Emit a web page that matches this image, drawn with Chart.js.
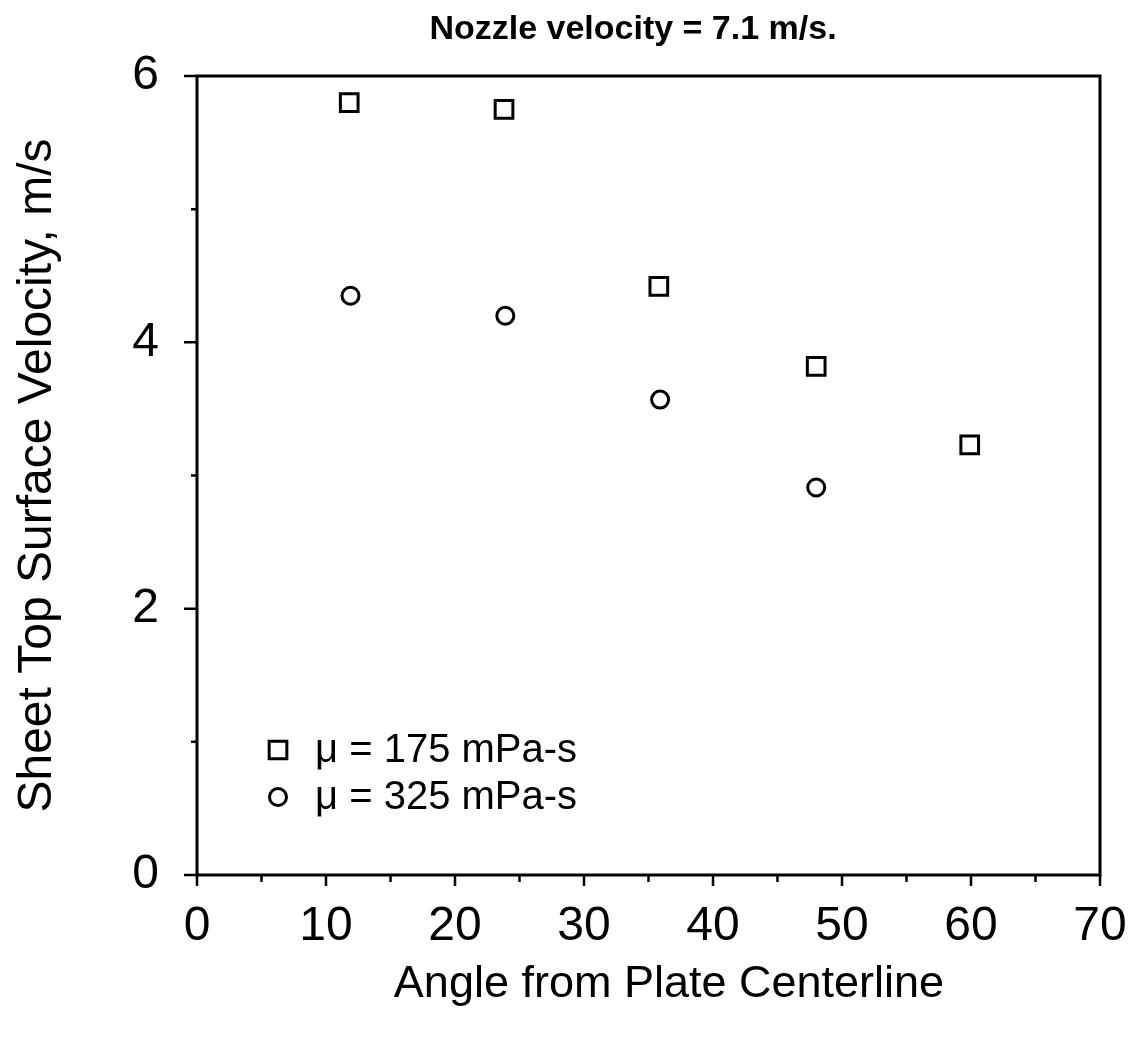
<!DOCTYPE html>
<html>
<head>
<meta charset="utf-8">
<script src="https://cdn.jsdelivr.net/npm/chart.js@4.4.1/dist/chart.umd.min.js"></script>
<style>
  html, body { margin: 0; padding: 0; background: #ffffff; }
  #wrap { width: 1143px; height: 1039px; position: relative; }
</style>
</head>
<body>
<div id="wrap"><canvas id="c" width="1143" height="1039"></canvas></div>
<script>
// ---- data ----
const chartTitle = "Nozzle velocity = 7.1 m/s.";
const xAxisTitle = "Angle from Plate Centerline";
const yAxisTitle = "Sheet Top Surface Velocity, m/s";

const seriesALabel = "\u03BC = 175 mPa-s";
const seriesAAngles = [11.8, 23.8, 35.8, 48.0, 59.9];
const seriesAValues = [5.80, 5.75, 4.42, 3.82, 3.23];

const seriesBLabel = "\u03BC = 325 mPa-s";
const seriesBAngles = [11.9, 23.9, 35.9, 48.0];
const seriesBValues = [4.35, 4.20, 3.57, 2.91];

const xMin = 0, xMax = 70, xMajorStep = 10, xMinorStep = 5;
const yMin = 0, yMax = 6, yMajorStep = 2, yMinorStep = 1;

const FONT = "'Liberation Sans', Arial, Helvetica, sans-serif";

function toPoints(xs, ys) { return xs.map((x, i) => ({ x: x, y: ys[i] })); }

// draws the frame, outward ticks, title, x-axis title and the inside legend
const framePlugin = {
  id: 'frame',
  afterDraw(chart) {
    const ctx = chart.ctx;
    const a = chart.chartArea;
    const xs = chart.scales.x, ys = chart.scales.y;
    ctx.save();
    ctx.strokeStyle = '#000';
    ctx.lineWidth = 3;
    ctx.lineCap = 'butt';
    ctx.strokeRect(a.left, a.top, a.right - a.left, a.bottom - a.top);
    ctx.lineWidth = 2.5;
    ctx.beginPath();
    for (let v = xMin; v <= xMax + 1e-9; v += xMinorStep) {
      const px = xs.getPixelForValue(v);
      const major = Math.abs(v / xMajorStep - Math.round(v / xMajorStep)) < 1e-9;
      ctx.moveTo(px, a.bottom);
      ctx.lineTo(px, a.bottom + (major ? 11 : 7));
    }
    for (let v = yMin; v <= yMax + 1e-9; v += yMinorStep) {
      const py = ys.getPixelForValue(v);
      const major = Math.abs(v / yMajorStep - Math.round(v / yMajorStep)) < 1e-9;
      ctx.moveTo(a.left, py);
      ctx.lineTo(a.left - (major ? 13 : 6), py);
    }
    ctx.stroke();

    ctx.fillStyle = '#000';
    // chart title
    ctx.font = "bold 34px " + FONT;
    ctx.textAlign = 'center';
    ctx.textBaseline = 'middle';
    ctx.fillText(chartTitle, a.left + 436, a.top - 46);
    // x axis title
    ctx.font = "45px " + FONT;
    ctx.fillText(xAxisTitle, a.left + 472, a.bottom + 110);

    // legend inside the plot (bottom-left)
    const entries = chart.data.datasets.map(ds => ({
      text: ds.label, style: ds.pointStyle, r: ds.pointRadius
    }));
    const lx = a.left + 81, ly0 = a.bottom - 125, dy = 47;
    ctx.font = "40px " + FONT;
    ctx.textBaseline = 'middle';
    ctx.textAlign = 'left';
    entries.forEach((e, i) => {
      const y = ly0 + i * dy;
      ctx.lineWidth = 3;
      ctx.strokeStyle = '#000';
      ctx.fillStyle = 'rgba(0,0,0,0)';
      Chart.helpers.drawPoint(ctx, { pointStyle: e.style, radius: e.r, borderWidth: 3, rotation: 0 }, lx, y);
      ctx.fillStyle = '#000';
      ctx.fillText(e.text, lx + 37, y + 1);
    });
    ctx.restore();
  }
};

new Chart(document.getElementById('c'), {
  type: 'scatter',
  data: {
    datasets: [
      {
        label: seriesALabel,
        data: toPoints(seriesAAngles, seriesAValues),
        pointStyle: 'rect',
        pointRadius: 12.5,
        pointBorderWidth: 3,
        pointBorderColor: '#000',
        pointBackgroundColor: 'rgba(0,0,0,0)',
        showLine: false
      },
      {
        label: seriesBLabel,
        data: toPoints(seriesBAngles, seriesBValues),
        pointStyle: 'circle',
        pointRadius: 8.5,
        pointBorderWidth: 3,
        pointBorderColor: '#000',
        pointBackgroundColor: 'rgba(0,0,0,0)',
        showLine: false
      }
    ]
  },
  options: {
    responsive: false,
    animation: false,
    devicePixelRatio: 1,
    layout: { padding: { left: 0, right: 43, top: 76, bottom: 0 } },
    plugins: {
      legend: { display: false },
      tooltip: { enabled: false },
      title: { display: false }
    },
    scales: {
      x: {
        type: 'linear',
        min: xMin, max: xMax,
        afterFit(scale) {
          scale.height = 1039 - 875;
          scale.paddingLeft = 0;
          scale.paddingRight = 0;
        },
        grid: { display: false, drawTicks: false },
        border: { display: false },
        ticks: {
          stepSize: xMajorStep,
          color: '#000',
          padding: 23,
          font: { family: FONT, size: 48 },
          maxRotation: 0
        },
        title: { display: false, text: xAxisTitle }
      },
      y: {
        type: 'linear',
        min: yMin, max: yMax,
        afterFit(scale) {
          scale.width = 197;
          scale.paddingTop = 0;
          scale.paddingBottom = 0;
        },
        grid: { display: false, drawTicks: false },
        border: { display: false },
        ticks: {
          stepSize: yMajorStep,
          color: '#000',
          padding: 38,
          font: { family: FONT, size: 48 }
        },
        title: {
          display: true,
          text: yAxisTitle,
          color: '#000',
          font: { family: FONT, size: 48, lineHeight: 1.2 },
          padding: { top: 9, bottom: 0 }
        }
      }
    }
  },
  plugins: [framePlugin]
});
</script>
</body>
</html>
